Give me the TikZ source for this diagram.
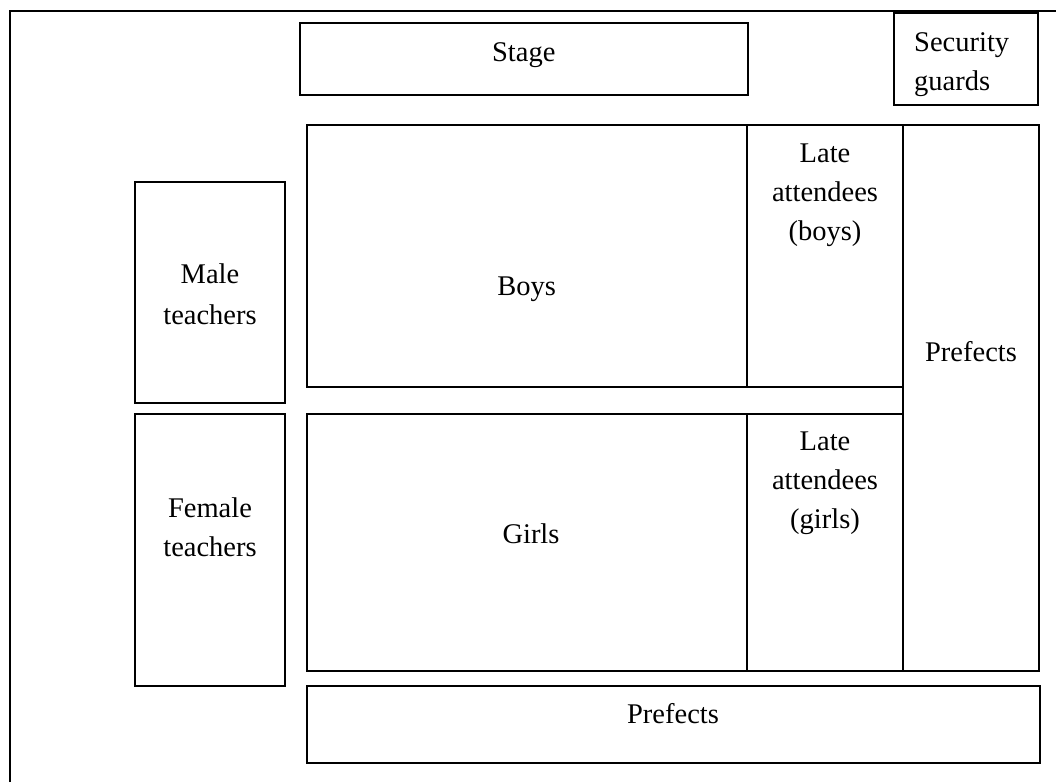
\documentclass[tikz,border=0pt]{standalone}
\usepackage{fontspec}
\setmainfont{Liberation Serif}
\begin{document}
\begin{tikzpicture}[x=1pt,y=-1pt,
  area/.style={draw, line width=2pt, inner sep=0pt, outer sep=0pt, rectangle},
  lbl/.style={anchor=base, inner sep=0pt, font=\fontsize{28.5}{40}\selectfont}]
\useasboundingbox (0,0) rectangle (1056,782);
% hall outline
\draw[line width=2pt] (9.5,782) -- (9.5,10.5) -- (1056,10.5);

% seating areas
\node[area, minimum width=447.5pt, minimum height=72.5pt] (stage) at (523.75,58.75) {};
\node[area, minimum width=144pt, minimum height=92.5pt] (security) at (965.5,58.75) {};
\node[area, minimum width=440.5pt, minimum height=261.7pt] (boys) at (526.75,255.85) {};
\node[area, minimum width=156pt, minimum height=261.7pt] (lateboys) at (825,255.85) {};
\node[area, minimum width=136pt, minimum height=546pt] (prefR) at (971,398) {};
\node[area, minimum width=440.5pt, minimum height=257pt] (girls) at (526.75,542.5) {};
\node[area, minimum width=156pt, minimum height=257pt] (lategirls) at (825,542.5) {};
\node[area, minimum width=733pt, minimum height=77pt] (prefB) at (673,724) {};
\node[area, minimum width=150pt, minimum height=221pt] (male) at (210,292) {};
\node[area, minimum width=150pt, minimum height=272pt] (female) at (210,550) {};

% labels
\node[lbl] (stageT) at (523.75,61) {Stage};
\node[lbl, anchor=base west] (secT1) at (914,51) {Security};
\node[lbl, anchor=base west] (secT2) at (914,90) {guards};
\node[lbl] (boysT) at (526.75,295) {Boys};
\node[lbl] (lbT1) at (825,162) {Late};
\node[lbl] (lbT2) at (825,201) {attendees};
\node[lbl] (lbT3) at (825,240) {(boys)};
\node[lbl] (prefRT) at (971,361) {Prefects};
\node[lbl] (girlsT) at (531,543) {Girls};
\node[lbl] (lgT1) at (825,450) {Late};
\node[lbl] (lgT2) at (825,489) {attendees};
\node[lbl] (lgT3) at (825,528) {(girls)};
\node[lbl] (prefBT) at (673,723) {Prefects};
\node[lbl] (maleT1) at (210,283) {Male};
\node[lbl] (maleT2) at (210,324) {teachers};
\node[lbl] (femT1) at (210,517) {Female};
\node[lbl] (femT2) at (210,556) {teachers};
\end{tikzpicture}
\end{document}
